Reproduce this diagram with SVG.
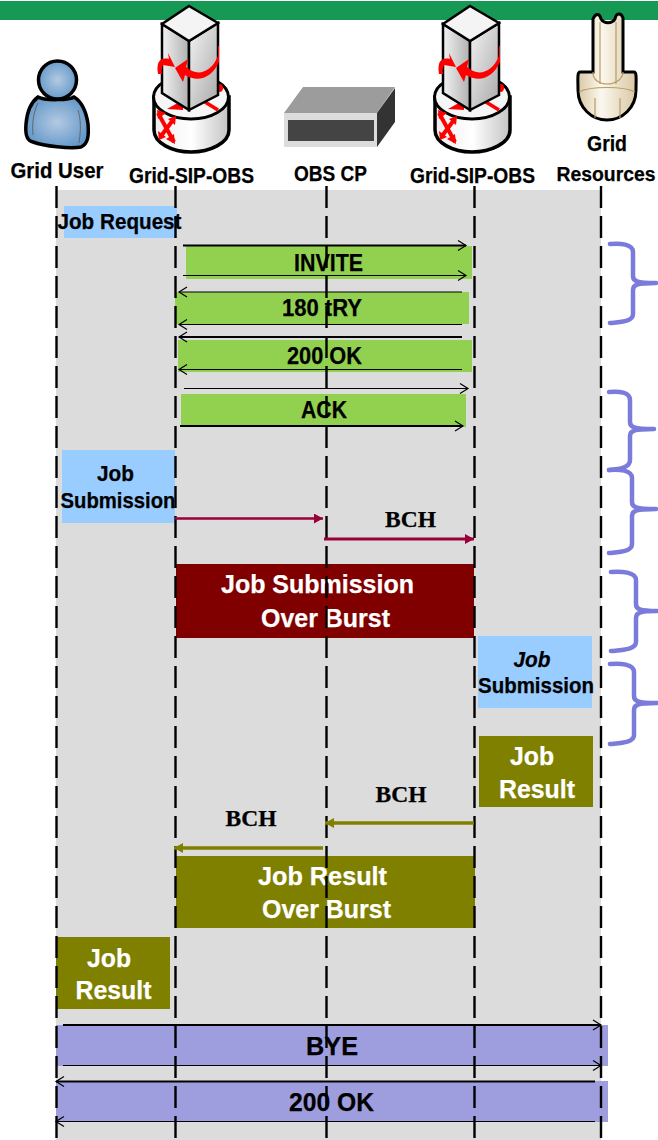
<svg xmlns="http://www.w3.org/2000/svg" xmlns:xlink="http://www.w3.org/1999/xlink" width="658" height="1140" viewBox="0 0 658 1140">
<style>
text{font-family:"Liberation Sans",Arial,sans-serif;font-weight:bold;fill:#000;text-anchor:middle;stroke:#000;stroke-width:.25px}
.w{fill:#fff;stroke:#fff;font-size:26px}
.k{font-size:26px}
.b{font-size:22px}
.m{font-size:23.5px}
.t{font-family:"Liberation Serif","Times New Roman",serif;font-size:23.5px}
.life{stroke:#000;stroke-width:2.4;stroke-dasharray:22 8;fill:none}
.a{stroke:#000;fill:none}
.brace{fill:none;stroke:#7b7bdc;stroke-width:4.5;stroke-linecap:round;stroke-linejoin:round}
.green{fill:#92d050}.blue{fill:#99ccff}.olive{fill:#808000}.purple{fill:#9e9ede}
</style>
<defs>
<marker id="open" markerUnits="userSpaceOnUse" markerWidth="14" markerHeight="14" refX="9" refY="6" orient="auto"><path d="M1 1L9 6L1 11" fill="none" stroke="#000" stroke-width="1.2"/></marker>
<marker id="mar" markerUnits="userSpaceOnUse" markerWidth="12" markerHeight="12" refX="9" refY="5" orient="auto"><path d="M0 0L9 5L0 10z" fill="#99003a"/></marker>
<marker id="oli" markerUnits="userSpaceOnUse" markerWidth="12" markerHeight="12" refX="9" refY="5" orient="auto"><path d="M0 0L9 5L0 10z" fill="#808000"/></marker>
<linearGradient id="gl" x1="0" x2="1" y1="0" y2="0"><stop offset="0" stop-color="#f2f2f2"/><stop offset="1" stop-color="#b0b0b0"/></linearGradient>
<linearGradient id="gr" x1="0" x2="1" y1="0" y2="1"><stop offset="0" stop-color="#f4f4f4"/><stop offset="1" stop-color="#a8a8a8"/></linearGradient>
<linearGradient id="gc" x1="0" x2="1" y1="0" y2="0"><stop offset="0" stop-color="#ededed"/><stop offset=".5" stop-color="#ffffff"/><stop offset="1" stop-color="#c4c4c4"/></linearGradient>
<radialGradient id="gp" cx=".5" cy=".5" r=".6"><stop offset="0" stop-color="#b4c9e2"/><stop offset="1" stop-color="#5a93c6"/></radialGradient>
<linearGradient id="gb" x1="0" x2="1" y1="0" y2="0"><stop offset="0" stop-color="#d8c8a4"/><stop offset=".4" stop-color="#fbf8ef"/><stop offset="1" stop-color="#d8c8a4"/></linearGradient>
<g id="srv">
<path d="M154 97V130C154 143 172 152 191 152S229 143 229 130V97z" fill="url(#gc)" stroke="#000" stroke-width="3.500"/>
<ellipse cx="191" cy="97" rx="37.500" ry="22" fill="#f6f6f6" stroke="#000" stroke-width="3"/>
<path d="M167 109L183 100L183 110z" fill="#f00"/>
<path d="M205 102L218 110" stroke="#f00" stroke-width="3.500"/>
<path d="M220 84a3 4 0 1 0 .1 0z" fill="#f00"/>
<path d="M158 113L174 142M173 120L161 136" stroke="#f00" stroke-width="4" fill="none"/>
<path d="M157 110L166 113L158 119zM175 144L166 139L174 134zM159 140L158 131L166 137zM176 116L175 125L168 119z" fill="#f00"/>
<path d="M162 24L189 41V110L162 93z" fill="url(#gl)" stroke="#000" stroke-width="2.500"/>
<path d="M189 41L218 23V95L189 110z" fill="url(#gr)" stroke="#000" stroke-width="2.500"/>
<path d="M189 6L218 23L189 41L162 24z" fill="#f4f4f4" stroke="#000" stroke-width="2.500"/>
<path d="M175 68L188 59L186 67C197 77 211 73 218 56V46L219 46V62C212 78 198 83 185 75L183 82z" fill="#f00"/>
<path d="M158 74C156 62 160 57 169 59L168 53L175 67L163 65C162 68 161 70 162 74z" fill="#f00"/>
</g>
</defs>
<rect id="background" width="658" height="1140" fill="#fff"/>
<rect id="top-bar" x="0" y="1" width="658" height="19" fill="#169955"/>
<rect id="lane" x="56" y="190" width="545" height="950" fill="#dcdcdc"/>

<g id="node-grid-user">
<path d="M38 97C30 103 27 112 26 124C25 135 27 141 33 142C44 146 70 149 81 147C88 144 89 136 88 124C86 110 82 102 74 97C70 100 45 101 38 97z" fill="url(#gp)" stroke="#000" stroke-width="3.500"/>
<path d="M38 103C33 113 32 125 33 135M78 110C81 120 81 130 79 143M45 95C52 100 62 100 69 95" fill="none" stroke="#666" stroke-width="1"/>
<circle cx="57.500" cy="80" r="19" fill="url(#gp)" stroke="#000" stroke-width="3.500"/>
<text class="b" x="57" y="178" textLength="93" lengthAdjust="spacingAndGlyphs">Grid User</text>
</g>
<g id="node-grid-sip-obs-1"><use xlink:href="#srv"/>
<text class="b" x="191.500" y="183" textLength="125" lengthAdjust="spacingAndGlyphs">Grid-SIP-OBS</text></g>
<g id="node-obs-cp">
<path d="M303 87H395L377 113H284z" fill="#9c9c9c"/>
<path d="M377 113L395 88V122L377 147z" fill="#333"/>
<rect x="284" y="113" width="93" height="34" fill="#dcdcdc"/>
<rect x="288" y="120" width="86" height="21" fill="#444"/>
<text class="b" x="330.500" y="181" textLength="73" lengthAdjust="spacingAndGlyphs">OBS CP</text></g>
<g id="node-grid-sip-obs-2"><use xlink:href="#srv" x="281"/>
<text class="b" x="472.500" y="183" textLength="125" lengthAdjust="spacingAndGlyphs">Grid-SIP-OBS</text></g>
<g id="node-grid-resources">
<path d="M593 19C596 12 600 14 601 19C604 24 612 24 615 19C616 13 621 12 623 18V72H634C637 72 636 80 636 90C636 108 622 120 607 120C592 120 578 108 578 90C578 80 577 72 580 72H593z" fill="url(#gb)" stroke="#000" stroke-width="3"/>
<path d="M593 72C592 88 622 88 623 72M600 22V84M616 22V84M579 92C590 86 624 86 635 92M595 98V118M620 98V118" fill="none" stroke="#b99a62" stroke-width="1.200"/>
<text class="b" x="607" y="151" textLength="40" lengthAdjust="spacingAndGlyphs">Grid</text><text x="606" y="181" style="font-size:20px" textLength="99" lengthAdjust="spacingAndGlyphs">Resources</text></g>

<g id="node-job-request"><rect class="blue" x="64" y="206" width="113" height="32"/><text class="b" x="119.500" y="229" textLength="124" lengthAdjust="spacingAndGlyphs">Job Request</text></g>
<g id="node-invite"><rect class="green" x="186" y="246" width="286" height="33"/><text class="m" x="328.500" y="271" textLength="69" lengthAdjust="spacingAndGlyphs">INVITE</text></g>
<g id="node-180"><rect class="green" x="175" y="292" width="294" height="32"/><text class="m" x="322" y="316" textLength="80" lengthAdjust="spacingAndGlyphs">180 tRY</text></g>
<g id="node-200-a"><rect class="green" x="178" y="340" width="294" height="32"/><text class="m" x="324.500" y="364" textLength="75" lengthAdjust="spacingAndGlyphs">200 OK</text></g>
<g id="node-ack"><rect class="green" x="181" y="394" width="285" height="33"/><text class="m" x="324" y="418" textLength="46" lengthAdjust="spacingAndGlyphs">ACK</text></g>
<g id="node-job-sub-1"><rect class="blue" x="62" y="450" width="113" height="73"/><text class="b" x="115.500" y="481" textLength="37" lengthAdjust="spacingAndGlyphs">Job</text><text class="b" x="118" y="508" textLength="115" lengthAdjust="spacingAndGlyphs">Submission</text></g>
<g id="node-burst-sub"><rect x="176" y="564" width="298" height="74" fill="#800000"/><text class="w" x="317.500" y="593" textLength="193" lengthAdjust="spacingAndGlyphs">Job Submission</text><text class="w" x="325.500" y="627" textLength="129" lengthAdjust="spacingAndGlyphs">Over Burst</text></g>
<g id="node-job-sub-2"><rect class="blue" x="478" y="636" width="114" height="72"/><text class="b" x="532" y="667" font-style="italic" textLength="37" lengthAdjust="spacingAndGlyphs">Job</text><text class="b" x="536" y="693" textLength="116" lengthAdjust="spacingAndGlyphs">Submission</text></g>
<g id="node-job-res-1"><rect class="olive" x="479" y="736" width="114" height="71"/><text class="w" x="532" y="765" textLength="44" lengthAdjust="spacingAndGlyphs">Job</text><text class="w" x="537" y="798" textLength="76" lengthAdjust="spacingAndGlyphs">Result</text></g>
<g id="node-burst-res"><rect class="olive" x="176" y="856" width="299" height="72"/><text class="w" x="322.500" y="885" textLength="129" lengthAdjust="spacingAndGlyphs">Job Result</text><text class="w" x="326.500" y="918" textLength="129" lengthAdjust="spacingAndGlyphs">Over Burst</text></g>
<g id="node-job-res-2"><rect class="olive" x="56" y="937" width="114" height="72"/><text class="w" x="109" y="967" textLength="44" lengthAdjust="spacingAndGlyphs">Job</text><text class="w" x="113.500" y="999" textLength="76" lengthAdjust="spacingAndGlyphs">Result</text></g>
<g id="node-bye"><rect class="purple" x="56" y="1025" width="552" height="41"/><text class="k" x="332" y="1055" textLength="52" lengthAdjust="spacingAndGlyphs">BYE</text></g>
<g id="node-200-b"><rect class="purple" x="56" y="1081" width="552" height="41"/><text class="k" x="331.500" y="1111" textLength="85" lengthAdjust="spacingAndGlyphs">200 OK</text></g>

<g id="labels"><text class="t" x="410.500" y="527">BCH</text><text class="t" x="401" y="802">BCH</text><text class="t" x="251" y="826">BCH</text></g>

<g id="lifelines">
<path class="life" d="M56.500 186V1140"/><path class="life" d="M175.500 186V1140"/><path class="life" d="M326.500 186V1140"/><path class="life" d="M474.500 186V1140"/><path class="life" d="M601 186V1140"/>
</g>

<g id="connectors">
<path class="a" stroke-width="2" marker-end="url(#open)" d="M183 245.500H466"/>
<path class="a" stroke-width="1.200" marker-end="url(#open)" d="M183 275.500H466"/>
<path class="a" stroke-width="1.200" marker-end="url(#open)" d="M462 292H179"/>
<path class="a" stroke-width="1.200" marker-end="url(#open)" d="M462 324.500H179"/>
<path class="a" stroke-width="2" marker-end="url(#open)" d="M462 337H179"/>
<path class="a" stroke-width="1.200" marker-end="url(#open)" d="M462 369.500H179"/>
<path class="a" stroke-width="1.200" marker-end="url(#open)" d="M184 388.500H468"/>
<path class="a" stroke-width="2" marker-end="url(#open)" d="M180 426H463"/>
<path fill="none" stroke="#99003a" stroke-width="2.500" marker-end="url(#mar)" d="M175 518.500H323"/>
<path fill="none" stroke="#99003a" stroke-width="3" marker-end="url(#mar)" d="M324 539H474"/>
<path fill="none" stroke="#808000" stroke-width="3.500" marker-end="url(#oli)" d="M474 823H325"/>
<path fill="none" stroke="#808000" stroke-width="3.500" marker-end="url(#oli)" d="M323 848H174"/>
<path class="a" stroke-width="2" marker-end="url(#open)" d="M63 1025H601"/>
<path class="a" stroke-width="1.200" marker-end="url(#open)" d="M63 1065.500H601"/>
<path class="a" stroke-width="2" marker-end="url(#open)" d="M595 1081.500H56"/>
<path class="a" stroke-width="1.200" marker-end="url(#open)" d="M595 1121.500H56"/>
</g>

<g id="braces">
<path class="brace" d="M610 244C620 243 633 244 633 252V276C633 281 636 283 656 283C636 283 633 285 633 290V314C633 322 620 322 610 323"/>
<path class="brace" d="M609 392C619 391 630 392 630 400V422C630 427 633 429 654 429C633 429 630 431 630 436V460C630 468 619 469 609 470"/>
<path class="brace" d="M609 470C619 469 632 470 632 478V502C632 507 635 509 656 509C635 509 632 511 632 516V544C632 552 619 552 609 553"/>
<path class="brace" d="M611 572C621 571 636 572 636 580V604C636 609 639 611 657 611C639 611 636 613 636 618V642C636 650 621 650 611 651"/>
<path class="brace" d="M610 664C620 663 634 664 634 672V696C634 701 637 703 657 703C637 703 634 705 634 710V735C634 743 620 743 610 744"/>
</g>
</svg>
